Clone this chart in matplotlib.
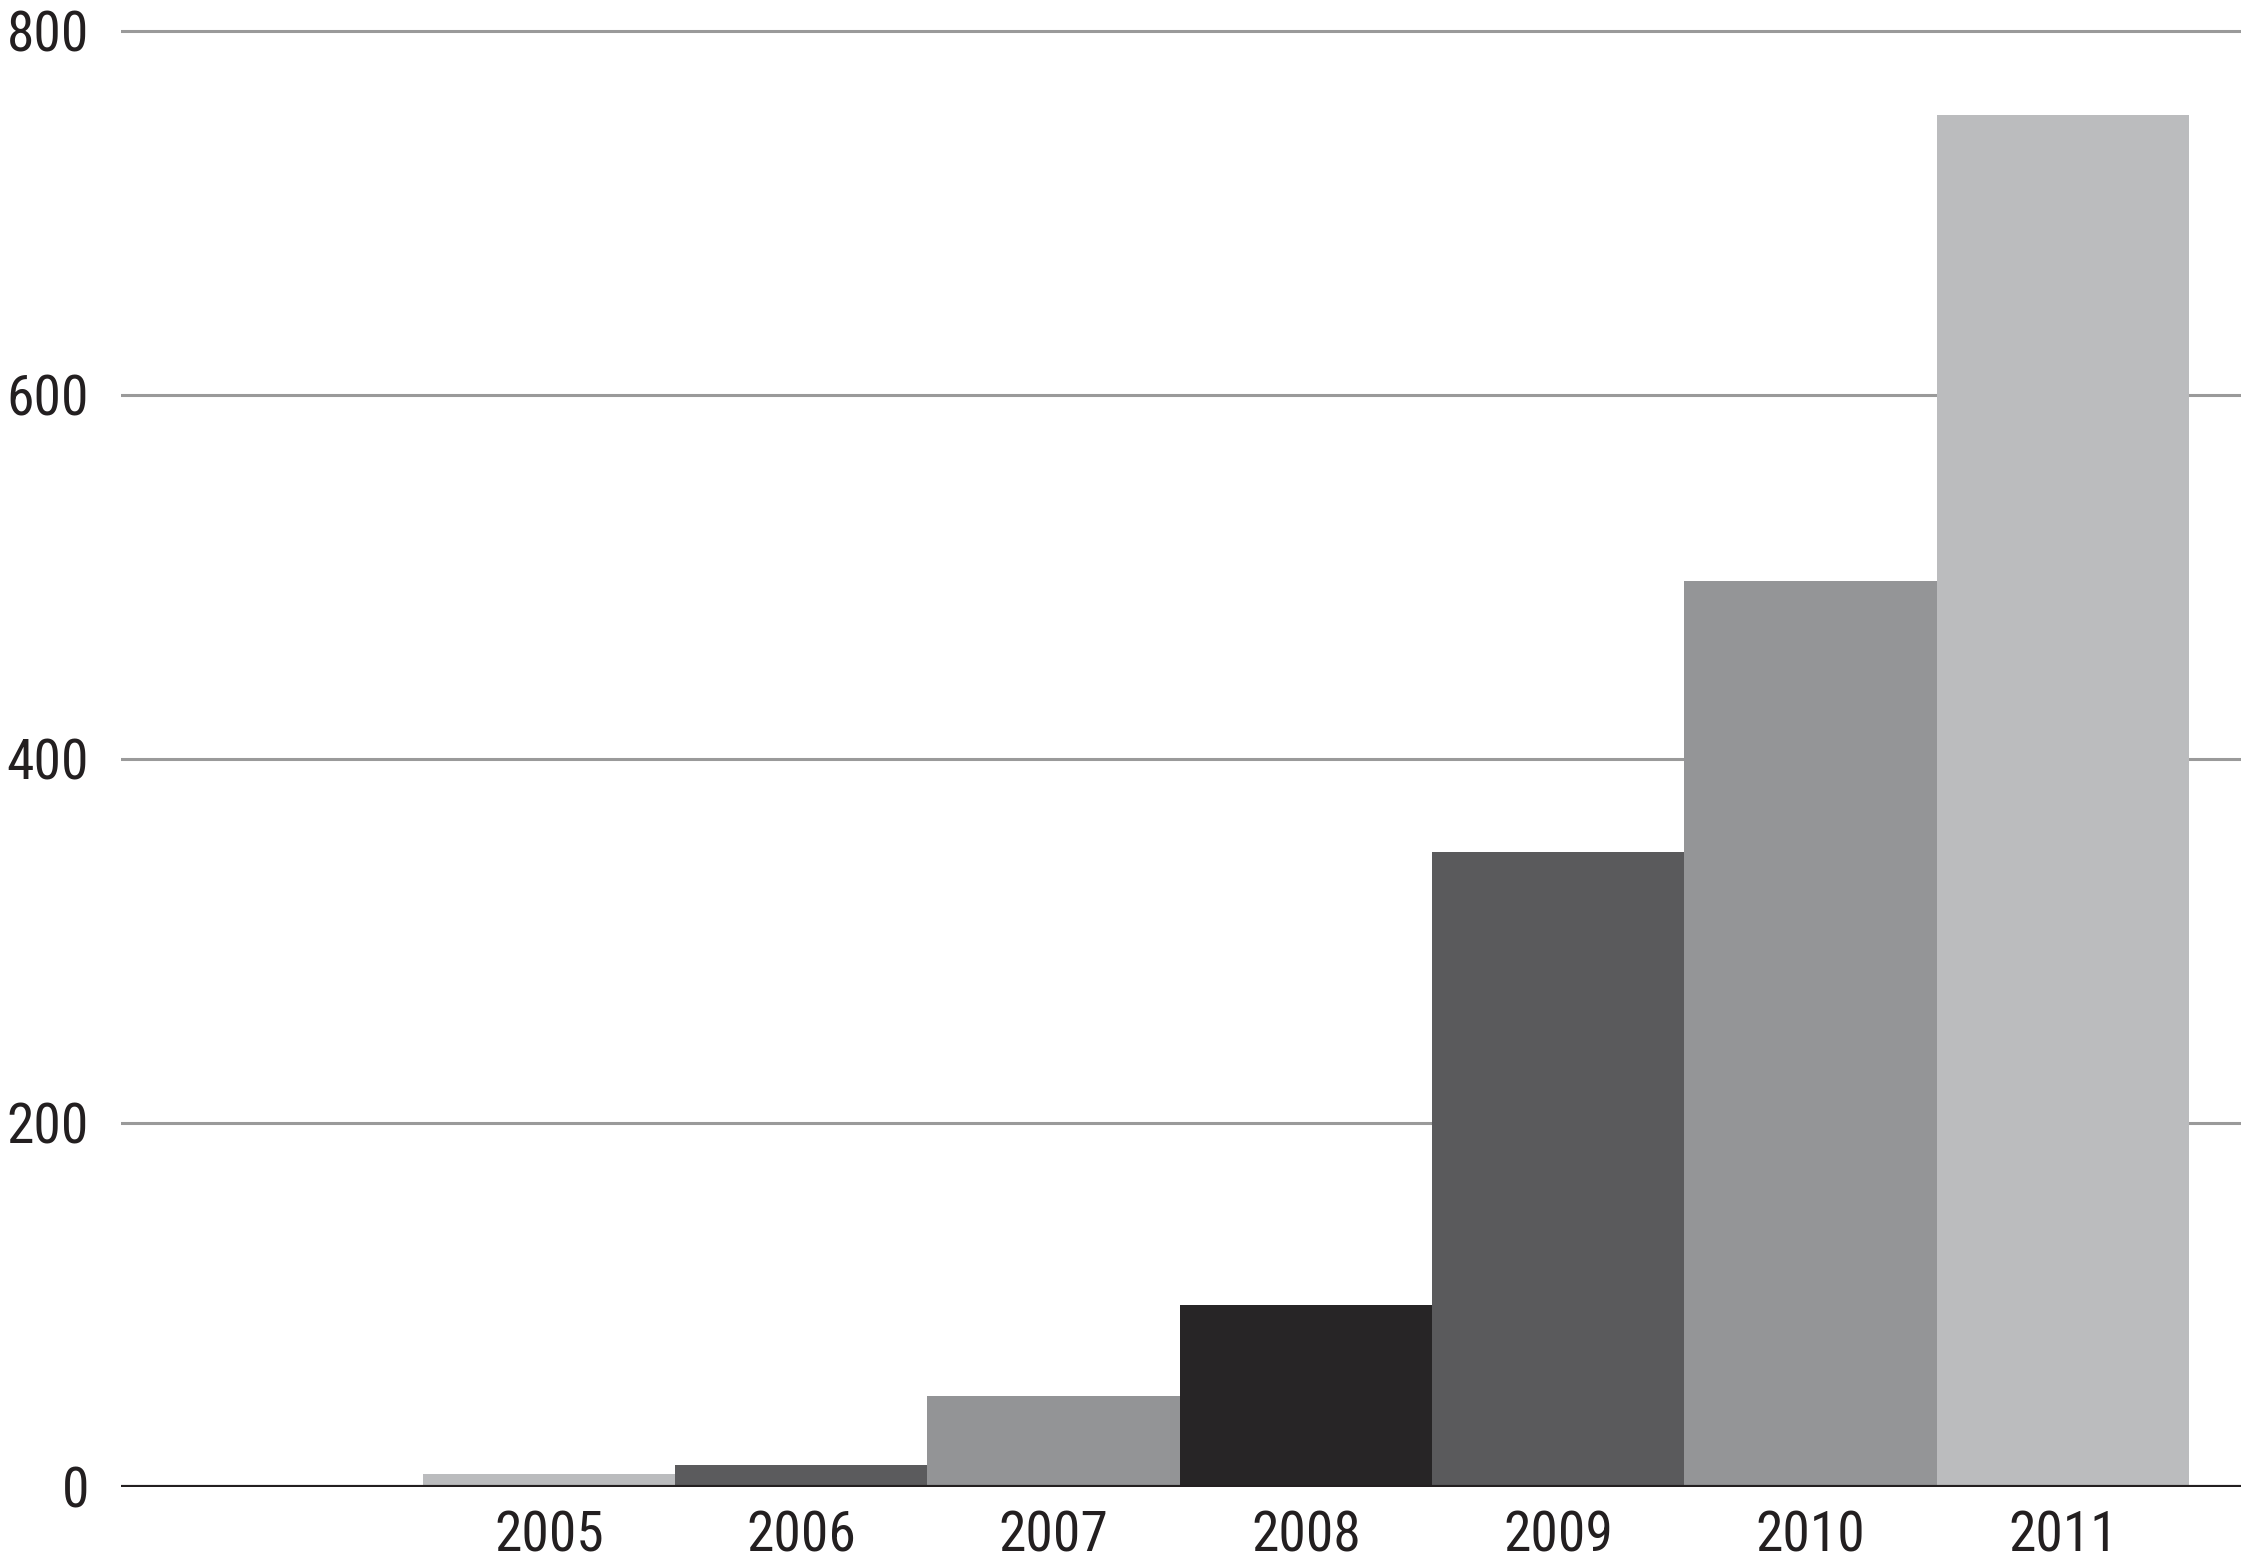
import matplotlib.pyplot as plt
from matplotlib import font_manager

years = ["2005", "2006", "2007", "2008", "2009", "2010", "2011"]
values = [7, 12, 50, 100, 349, 498, 754]
bar_colors = ["#bbbcbe", "#5b5b5d", "#939496", "#272526", "#5a5a5c", "#949597", "#bbbcbe"]
y_ticks = [0, 200, 400, 600, 800]


def find_condensed_font():
    """Look for a narrow sans font among the installed ones."""
    preferred = ["Roboto Condensed", "Liberation Sans Narrow", "DejaVu Sans Condensed",
                 "Open Sans Condensed", "Noto Sans Condensed"]
    entries = font_manager.fontManager.ttflist
    for name in preferred:
        for f in entries:
            if f.name == name and f.style == "normal" and f.weight in (400, "normal", "regular"):
                return font_manager.FontProperties(fname=f.fname)
    for f in entries:
        narrow = f.stretch in ("condensed", "semi-condensed", "extra-condensed") or \
            "Condensed" in f.fname or "Narrow" in f.fname
        if narrow and f.style == "normal" and "Bold" not in f.fname and "Light" not in f.fname \
                and "Serif" not in f.fname and "Mono" not in f.fname and "Italic" not in f.fname:
            return font_manager.FontProperties(fname=f.fname)
    return None


font = find_condensed_font()
if font is None:
    font = font_manager.FontProperties(family="DejaVu Sans")
    size = 31
else:
    size = 40

fig = plt.figure(figsize=(22.41, 15.61), dpi=100)
ax = fig.add_axes([121 / 2241, (1561 - 1487) / 1561, 2120 / 2241, 1487 / 1561])

x = list(range(len(years)))
ax.bar(x, values, width=1.0, color=bar_colors, zorder=3, linewidth=0)

ax.set_xlim(-1.696, 6.706)
ax.set_ylim(0, 800 * 1487 / 1456)

ax.set_yticks(y_ticks)
ax.set_yticklabels([str(v) for v in y_ticks], fontproperties=font, fontsize=size)
ax.set_xticks(x)
ax.set_xticklabels(years, fontproperties=font, fontsize=size)

for v in y_ticks[1:]:
    ax.axhline(v, color="#9a9a9a", linewidth=2.2, zorder=1)
ax.axhline(0, color="#231f20", linewidth=3.0, zorder=4)

for side in ["top", "right", "left", "bottom"]:
    ax.spines[side].set_visible(False)

ax.tick_params(axis="y", length=0, pad=23, labelcolor="#231f20")
ax.tick_params(axis="x", length=0, pad=16, labelcolor="#231f20")

fig.savefig("out.png", dpi=100, facecolor="white")
